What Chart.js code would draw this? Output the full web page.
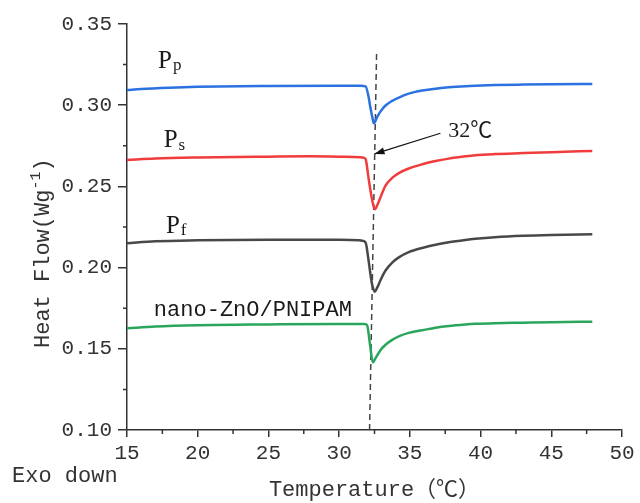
<!DOCTYPE html>
<html>
<head>
<meta charset="utf-8">
<script src="https://cdn.jsdelivr.net/npm/chart.js@4/dist/chart.umd.min.js"></script>
<style>
  html, body { margin: 0; padding: 0; background: #fff; }
</style>
</head>
<body>
<canvas id="dscChart" width="640" height="503"></canvas>
<script>
// DSC curves (temperature in °C, heat flow in W/g)
const ppTemp = [15, 16, 18, 20, 25, 30, 31.5, 31.87, 32.08, 32.2, 32.36, 32.45, 32.7, 32.93, 33.28, 33.75, 34.22, 34.92, 35.87, 36.81, 37.75, 38.92, 39.63, 41, 43, 45, 47.9];
const ppFlow = [0.3093, 0.3100, 0.3108, 0.3113, 0.3118, 0.3120, 0.3120, 0.3116, 0.3052, 0.2990, 0.2920, 0.2889, 0.2929, 0.2962, 0.2998, 0.3027, 0.3047, 0.3071, 0.3090, 0.3102, 0.3110, 0.3117, 0.3120, 0.3124, 0.3127, 0.3129, 0.3131];

const psTemp = [15, 17, 20, 25, 28, 30, 31.5, 31.75, 31.87, 32.1, 32.29, 32.52, 32.7, 32.93, 33.28, 33.75, 34.22, 34.92, 35.87, 36.81, 37.75, 38.92, 39.63, 41, 43, 45, 47.9];
const psFlow = [0.2663, 0.2672, 0.2678, 0.2683, 0.2685, 0.2683, 0.2680, 0.2676, 0.2668, 0.2539, 0.2437, 0.2359, 0.2385, 0.2435, 0.2505, 0.2552, 0.2582, 0.2610, 0.2636, 0.2656, 0.2671, 0.2685, 0.2692, 0.2699, 0.2705, 0.2711, 0.2718];

const pfTemp = [15, 17, 20, 25, 30, 31.4, 31.63, 31.87, 32.06, 32.22, 32.34, 32.52, 32.7, 32.93, 33.28, 33.75, 34.22, 34.92, 35.87, 36.81, 37.75, 38.92, 39.63, 41, 43, 45, 47.9];
const pfFlow = [0.2150, 0.2162, 0.2168, 0.2172, 0.2172, 0.2168, 0.2165, 0.2155, 0.2057, 0.1955, 0.1893, 0.1852, 0.1878, 0.1924, 0.1982, 0.2031, 0.2063, 0.2095, 0.2121, 0.2141, 0.2156, 0.2170, 0.2177, 0.2187, 0.2196, 0.2201, 0.2205];

const znTemp = [15, 17, 20, 25, 30, 31.8, 31.98, 32.08, 32.2, 32.38, 32.57, 32.93, 33.28, 33.75, 34.22, 34.92, 35.87, 36.81, 37.75, 38.92, 39.63, 41, 43, 45, 47.9];
const znFlow = [0.1626, 0.1637, 0.1645, 0.1650, 0.1653, 0.1652, 0.1645, 0.1596, 0.1513, 0.1417, 0.1442, 0.1493, 0.1525, 0.1555, 0.1577, 0.1598, 0.1614, 0.1630, 0.1641, 0.1650, 0.1654, 0.1658, 0.1661, 0.1664, 0.1667];

// LCST guide line and the arrow pointing at it
const lcstTemp = [32.15, 32.65];
const lcstFlow = [0.10, 0.333];
const arrowTemp = [37.16, 32.5];
const arrowFlow = [0.2827, 0.2700];

// curve labels
const labelNames = ['P', 'P', 'P'];
const labelSubs = ['p', 's', 'f'];
const labelTemp = [17.19, 17.59, 17.75];
const labelFlow = [0.3272, 0.2780, 0.2256];
const compositeLabel = 'nano-ZnO/PNIPAM';
const compositeTemp = 16.9;
const compositeFlow = 0.1739;
const lcstLabel = '32℃';
const lcstLabelTemp = 37.72;
const lcstLabelFlow = 0.2837;

const xMinor = [17.5, 22.5, 27.5, 32.5, 37.5, 42.5, 47.5];
const yMinor = [0.125, 0.175, 0.225, 0.275, 0.325];

const MONO = "'Liberation Mono', 'Noto Sans CJK SC', monospace";
const SERIF = "'Liberation Serif', 'Noto Sans CJK SC', serif";
const AXIS = '#333';

const toPoints = (xs, ys) => xs.map((x, i) => ({ x: x, y: ys[i] }));

const curve = (label, xs, ys, color) => ({
    label: label,
    data: toPoints(xs, ys),
    borderColor: color,
    borderWidth: 2.5,
    pointRadius: 0,
    cubicInterpolationMode: 'monotone',
    fill: false
});

const extras = {
    id: 'extras',
    afterDraw(chart) {
        const ctx = chart.ctx;
        const xs = chart.scales.x;
        const ys = chart.scales.y;
        const area = chart.chartArea;
        ctx.save();

        // minor ticks
        ctx.strokeStyle = AXIS;
        ctx.lineWidth = 1.5;
        ctx.beginPath();
        xMinor.forEach(v => {
            const px = xs.getPixelForValue(v);
            ctx.moveTo(px, area.bottom);
            ctx.lineTo(px, area.bottom + 4);
        });
        yMinor.forEach(v => {
            const py = ys.getPixelForValue(v);
            ctx.moveTo(area.left - 4, py);
            ctx.lineTo(area.left, py);
        });
        ctx.stroke();

        // arrow head
        const x0 = xs.getPixelForValue(arrowTemp[0]), y0 = ys.getPixelForValue(arrowFlow[0]);
        const x1 = xs.getPixelForValue(arrowTemp[1]), y1 = ys.getPixelForValue(arrowFlow[1]);
        const ang = Math.atan2(y1 - y0, x1 - x0);
        ctx.fillStyle = '#111';
        ctx.beginPath();
        ctx.moveTo(x1, y1);
        ctx.lineTo(x1 - 10 * Math.cos(ang) + 3.5 * Math.sin(ang), y1 - 10 * Math.sin(ang) - 3.5 * Math.cos(ang));
        ctx.lineTo(x1 - 10 * Math.cos(ang) - 3.5 * Math.sin(ang), y1 - 10 * Math.sin(ang) + 3.5 * Math.cos(ang));
        ctx.closePath();
        ctx.fill();

        // curve labels
        ctx.fillStyle = '#1a1a1a';
        ctx.textBaseline = 'middle';
        ctx.textAlign = 'left';
        labelNames.forEach((name, i) => {
            const px = xs.getPixelForValue(labelTemp[i]);
            const py = ys.getPixelForValue(labelFlow[i]);
            ctx.font = '25px ' + SERIF;
            ctx.fillText(name, px, py);
            const w = ctx.measureText(name).width;
            ctx.font = '17px ' + SERIF;
            ctx.fillText(labelSubs[i], px + w + 1, py + 5);
        });
        ctx.font = '22px ' + MONO;
        ctx.fillText(compositeLabel, xs.getPixelForValue(compositeTemp), ys.getPixelForValue(compositeFlow));
        ctx.font = '22px ' + SERIF;
        ctx.fillText(lcstLabel, xs.getPixelForValue(lcstLabelTemp), ys.getPixelForValue(lcstLabelFlow));

        // y axis title with superscript
        ctx.fillStyle = AXIS;
        ctx.textBaseline = 'alphabetic';
        ctx.translate(49, 348);
        ctx.rotate(-Math.PI / 2);
        let cx = 0;
        ctx.font = '22px ' + MONO;
        ctx.fillText('Heat Flow(Wg', cx, 0);
        cx += ctx.measureText('Heat Flow(Wg').width;
        ctx.font = '15px ' + MONO;
        ctx.fillText('-1', cx, -9);
        cx += ctx.measureText('-1').width;
        ctx.font = '22px ' + MONO;
        ctx.fillText(')', cx, 0);
        ctx.setTransform(1, 0, 0, 1, 0, 0);

        // corner note
        ctx.font = '22px ' + MONO;
        ctx.fillText('Exo down', 12, 482);
        ctx.restore();
    }
};

new Chart(document.getElementById('dscChart').getContext('2d'), {
    type: 'line',
    data: {
        datasets: [
            curve('Pp', ppTemp, ppFlow, '#2b72e0'),
            curve('Ps', psTemp, psFlow, '#f03c3c'),
            curve('Pf', pfTemp, pfFlow, '#484848'),
            curve('nano-ZnO/PNIPAM', znTemp, znFlow, '#2aa65c'),
            {
                label: 'LCST',
                data: toPoints(lcstTemp, lcstFlow),
                borderColor: '#444',
                borderWidth: 1.5,
                borderDash: [6, 4],
                pointRadius: 0,
                tension: 0
            },
            {
                label: 'arrow',
                data: toPoints(arrowTemp, arrowFlow),
                borderColor: '#111',
                borderWidth: 1.2,
                pointRadius: 0,
                tension: 0
            }
        ]
    },
    options: {
        responsive: false,
        animation: false,
        layout: { padding: { left: 0, right: 18, top: 24, bottom: 0 } },
        plugins: {
            legend: { display: false },
            tooltip: { enabled: false }
        },
        scales: {
            x: {
                type: 'linear',
                min: 15,
                max: 50,
                ticks: {
                    stepSize: 5,
                    padding: 4,
                    color: AXIS,
                    font: { family: MONO, size: 21 },
                    maxRotation: 0
                },
                grid: { drawOnChartArea: false, tickLength: 7, color: AXIS, lineWidth: 1.5 },
                border: { color: AXIS, width: 1.5 },
                title: {
                    display: true,
                    text: 'Temperature（℃）',
                    color: AXIS,
                    font: { family: MONO, size: 22 },
                    padding: { top: 0, bottom: 0 }
                },
                afterFit: s => { s.height = 73; }
            },
            y: {
                min: 0.10,
                max: 0.35,
                ticks: {
                    stepSize: 0.05,
                    padding: 6,
                    color: AXIS,
                    font: { family: MONO, size: 21 },
                    callback: v => v.toFixed(2)
                },
                grid: { drawOnChartArea: false, tickLength: 9, color: AXIS, lineWidth: 1.5 },
                border: { color: AXIS, width: 1.5 },
                afterFit: s => { s.width = 127; }
            }
        }
    },
    plugins: [extras]
});
</script>
</body>
</html>
